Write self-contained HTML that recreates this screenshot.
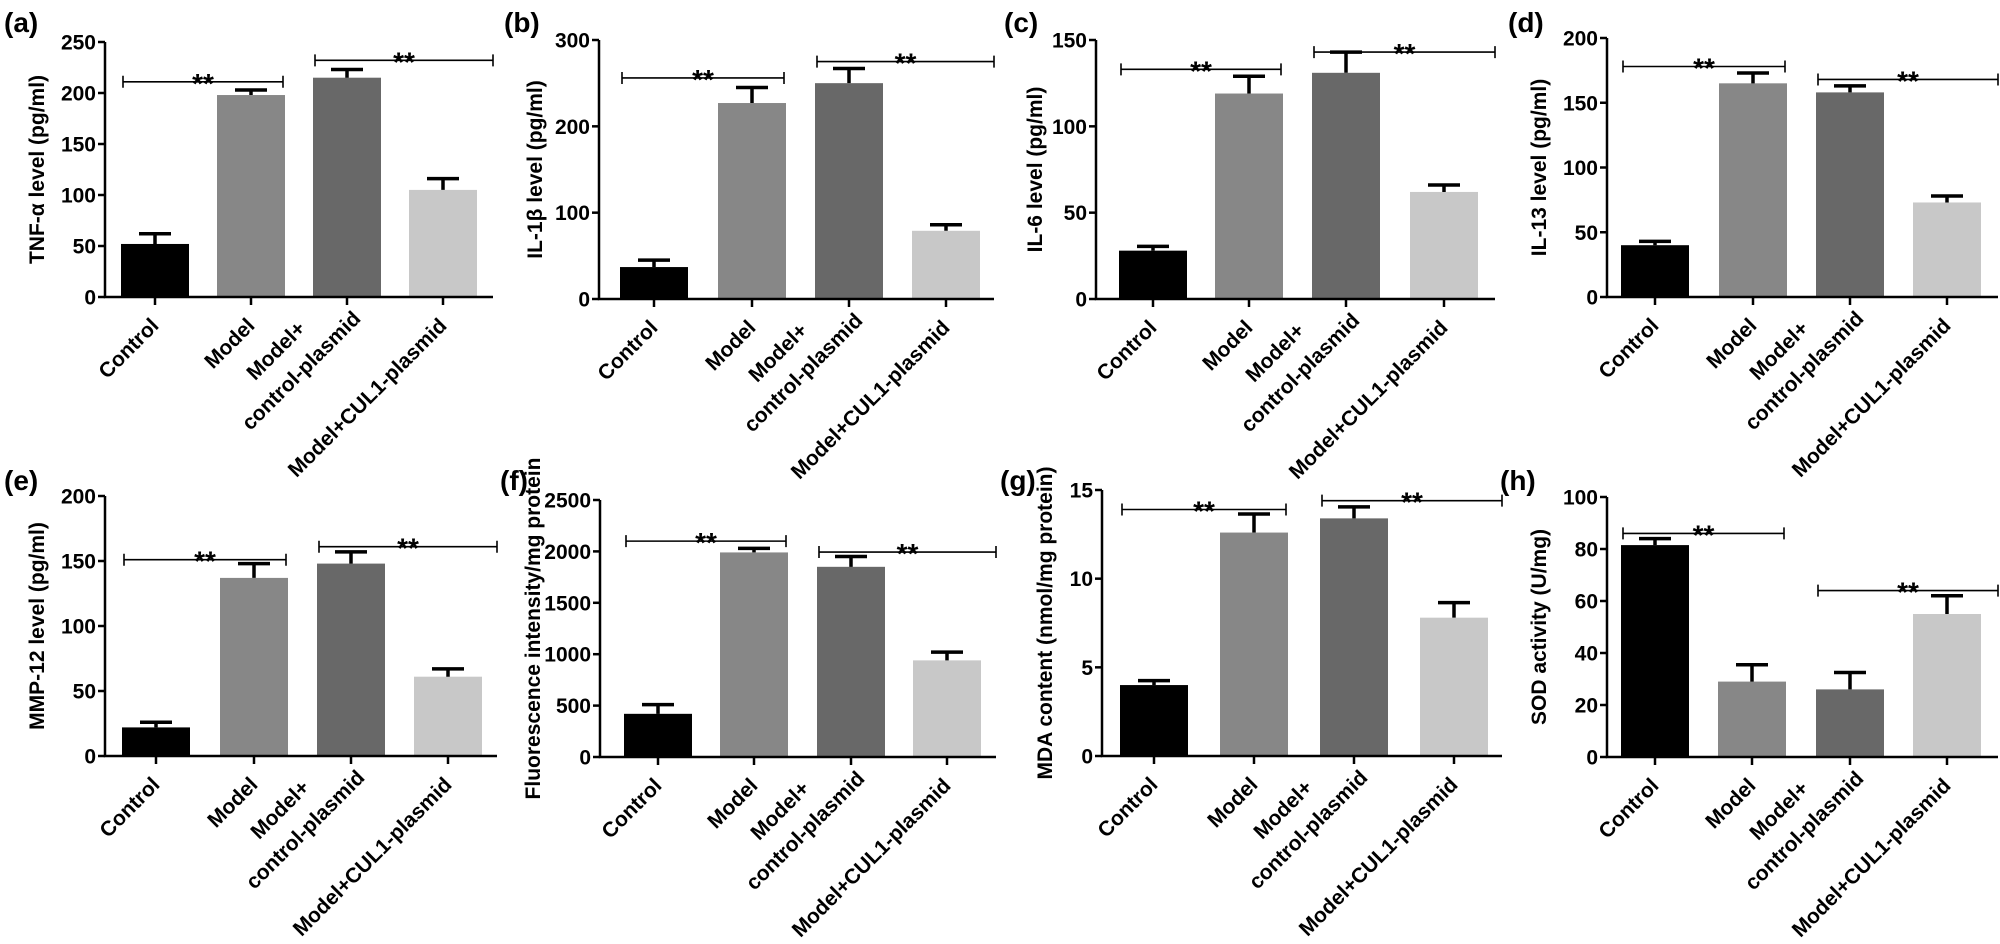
<!DOCTYPE html>
<html><head><meta charset="utf-8"><style>
html,body{margin:0;padding:0;background:#fff;}
svg{display:block;font-family:"Liberation Sans",Arial,sans-serif;font-weight:bold;}
</style></head><body>
<svg id="fig" width="2000" height="944" viewBox="0 0 2000 944" xmlns="http://www.w3.org/2000/svg"></svg>
<script>
const categories = ["Control","Model","Model+|control-plasmid","Model+CUL1-plasmid"];
const colors = ["#000000","#878787","#686868","#c8c8c8"];
// panel a
const valsA = [52,198,215,105]; const errsA = [10,5,8,11]; const ticksA = [0,50,100,150,200,250]; const sigA = [211,232];
// panel b
const valsB = [37,227,250,79]; const errsB = [8,18,17,7]; const ticksB = [0,100,200,300]; const sigB = [256,275];
// panel c
const valsC = [28,119,131,62]; const errsC = [2.5,10,12,4]; const ticksC = [0,50,100,150]; const sigC = [133,143];
// panel d
const valsD = [40,165,158,73]; const errsD = [3,8,5,5]; const ticksD = [0,50,100,150,200]; const sigD = [178,168];
// panel e
const valsE = [22,137,148,61]; const errsE = [4,11,9,6]; const ticksE = [0,50,100,150,200]; const sigE = [151,161];
// panel f
const valsF = [420,1990,1850,940]; const errsF = [90,40,100,80]; const ticksF = [0,500,1000,1500,2000,2500]; const sigF = [2100,1994];
// panel g
const valsG = [4.0,12.6,13.4,7.8]; const errsG = [0.25,1.05,0.65,0.85]; const ticksG = [0,5,10,15]; const sigG = [13.9,14.4];
// panel h
const valsH = [81.5,29,26,55]; const errsH = [2.5,6.5,6.5,7]; const ticksH = [0,20,40,60,80,100]; const sigH = [86,64];
const sigPairsH = [[0,1],[2,3]];

const NS = "http://www.w3.org/2000/svg";
const svg = document.getElementById("fig");
function mk(tag, attrs, parent, text){
  const e = document.createElementNS(NS, tag);
  for (const k in attrs) e.setAttribute(k, attrs[k]);
  if (text !== undefined) e.textContent = text;
  (parent || svg).appendChild(e);
  return e;
}
const panels = [
 {id:"a",letter:"(a)",lx:4,ly:32,ax:105,y0:297,yTop:42,xEnd:493,centers:[155,251,347,443],vals:valsA,errs:errsA,ticks:ticksA,sig:sigA,pairs:[[0,1],[2,3]],title:"TNF-α level (pg/ml)",tx:44},
 {id:"b",letter:"(b)",lx:504,ly:32,ax:599,y0:299,yTop:40,xEnd:994,centers:[654,752,849,946],vals:valsB,errs:errsB,ticks:ticksB,sig:sigB,pairs:[[0,1],[2,3]],title:"IL-1β level (pg/ml)",tx:542},
 {id:"c",letter:"(c)",lx:1004,ly:32,ax:1096,y0:299,yTop:40,xEnd:1495,centers:[1153,1249,1346,1444],vals:valsC,errs:errsC,ticks:ticksC,sig:sigC,pairs:[[0,1],[2,3]],title:"IL-6 level (pg/ml)",tx:1042},
 {id:"d",letter:"(d)",lx:1508,ly:32,ax:1607,y0:297,yTop:38,xEnd:1998,centers:[1655,1753,1850,1947],vals:valsD,errs:errsD,ticks:ticksD,sig:sigD,pairs:[[0,1],[2,3]],title:"IL-13 level (pg/ml)",tx:1546},
 {id:"e",letter:"(e)",lx:4,ly:490,ax:105,y0:756,yTop:496,xEnd:497,centers:[156,254,351,448],vals:valsE,errs:errsE,ticks:ticksE,sig:sigE,pairs:[[0,1],[2,3]],title:"MMP-12 level (pg/ml)",tx:44},
 {id:"f",letter:"(f)",lx:500,ly:490,ax:600,y0:757,yTop:500,xEnd:996,centers:[658,754,851,947],vals:valsF,errs:errsF,ticks:ticksF,sig:sigF,pairs:[[0,1],[2,3]],title:"Fluorescence intensity/mg protein",tx:540},
 {id:"g",letter:"(g)",lx:1000,ly:490,ax:1102,y0:756,yTop:490,xEnd:1502,centers:[1154,1254,1354,1454],vals:valsG,errs:errsG,ticks:ticksG,sig:sigG,pairs:[[0,1],[2,3]],title:"MDA content (nmol/mg protein)",tx:1052},
 {id:"h",letter:"(h)",lx:1500,ly:490,ax:1607,y0:757,yTop:497,xEnd:1998,centers:[1655,1752,1850,1947],vals:valsH,errs:errsH,ticks:ticksH,sig:sigH,pairs:sigPairsH,title:"SOD activity (U/mg)",tx:1546}
];
const BW = 68;
panels.forEach(p => {
  const g = mk("g", {});
  
  
  const maxV = p.ticks[p.ticks.length-1];
  const y = v => p.y0 - (v / maxV) * (p.y0 - p.yTop);
  const lt = mk("text", {x:p.lx, y:p.ly, "font-size":28}, g, p.letter);
  
  
  p.vals.forEach((v,i) => {
    const cx = p.centers[i];
    const r = mk("rect", {x:cx-BW/2, y:y(v), width:BW, height:p.y0-y(v), fill:colors[i]}, g);
    
    
    const top = y(v + p.errs[i]);
    const eb = mk("path", {d:`M${cx},${y(v)} V${top} M${cx-16},${top} H${cx+16}`, stroke:"#000", "stroke-width":3.5, fill:"none"}, g);
    
    
  });
  const ya = mk("path", {d:`M${p.ax},${p.yTop} V${p.y0} H${p.xEnd}`, stroke:"#000", "stroke-width":2.5, fill:"none"}, g);
  
  
  p.ticks.forEach(t => {
    mk("line", {x1:p.ax-7, x2:p.ax, y1:y(t), y2:y(t), stroke:"#000", "stroke-width":2.5}, g);
    const tl = mk("text", {x:p.ax-9, y:y(t)+7.5, "font-size":21, "text-anchor":"end"}, g, String(t));
    
    
  });
  p.centers.forEach((cx,i) => {
    mk("line", {x1:cx, x2:cx, y1:p.y0, y2:p.y0+8, stroke:"#000", "stroke-width":2.5}, g);
    const lines = categories[i].split("|");
    const t = mk("text", {transform:`translate(${cx-5},${p.y0+20}) rotate(-45)`, "font-size":21, "text-anchor":"end"}, g);
    
    
    if (lines.length === 1) {
      mk("tspan", {x:0, y:14}, t, lines[0]);
    } else {
      mk("tspan", {x:-34, y:-16}, t, lines[0]);
      mk("tspan", {x:12, y:16}, t, lines[1]);
    }
  });
  const ytl = mk("text", {transform:`translate(${p.tx},${(p.y0+p.yTop)/2}) rotate(-90)`, "font-size":21, "text-anchor":"middle"}, g, p.title);
  
  
  p.pairs.forEach((pr,k) => {
    const x1 = p.centers[pr[0]] - BW/2 + 2;
    const x2 = (pr[1] === 3) ? p.xEnd : p.centers[pr[1]] + BW/2 - 2;
    const yy = y(p.sig[k]);
    const br = mk("path", {d:`M${x1},${yy-6} V${yy+6} M${x1},${yy} H${x2} M${x2},${yy-6} V${yy+6}`, stroke:"#000", "stroke-width":1.6, fill:"none"}, g);
    
    
    const st = mk("text", {x:(x1+x2)/2, y:yy+11, "font-size":28, "text-anchor":"middle"}, g, "**");
    
    
  });
});
</script>
</body></html>
